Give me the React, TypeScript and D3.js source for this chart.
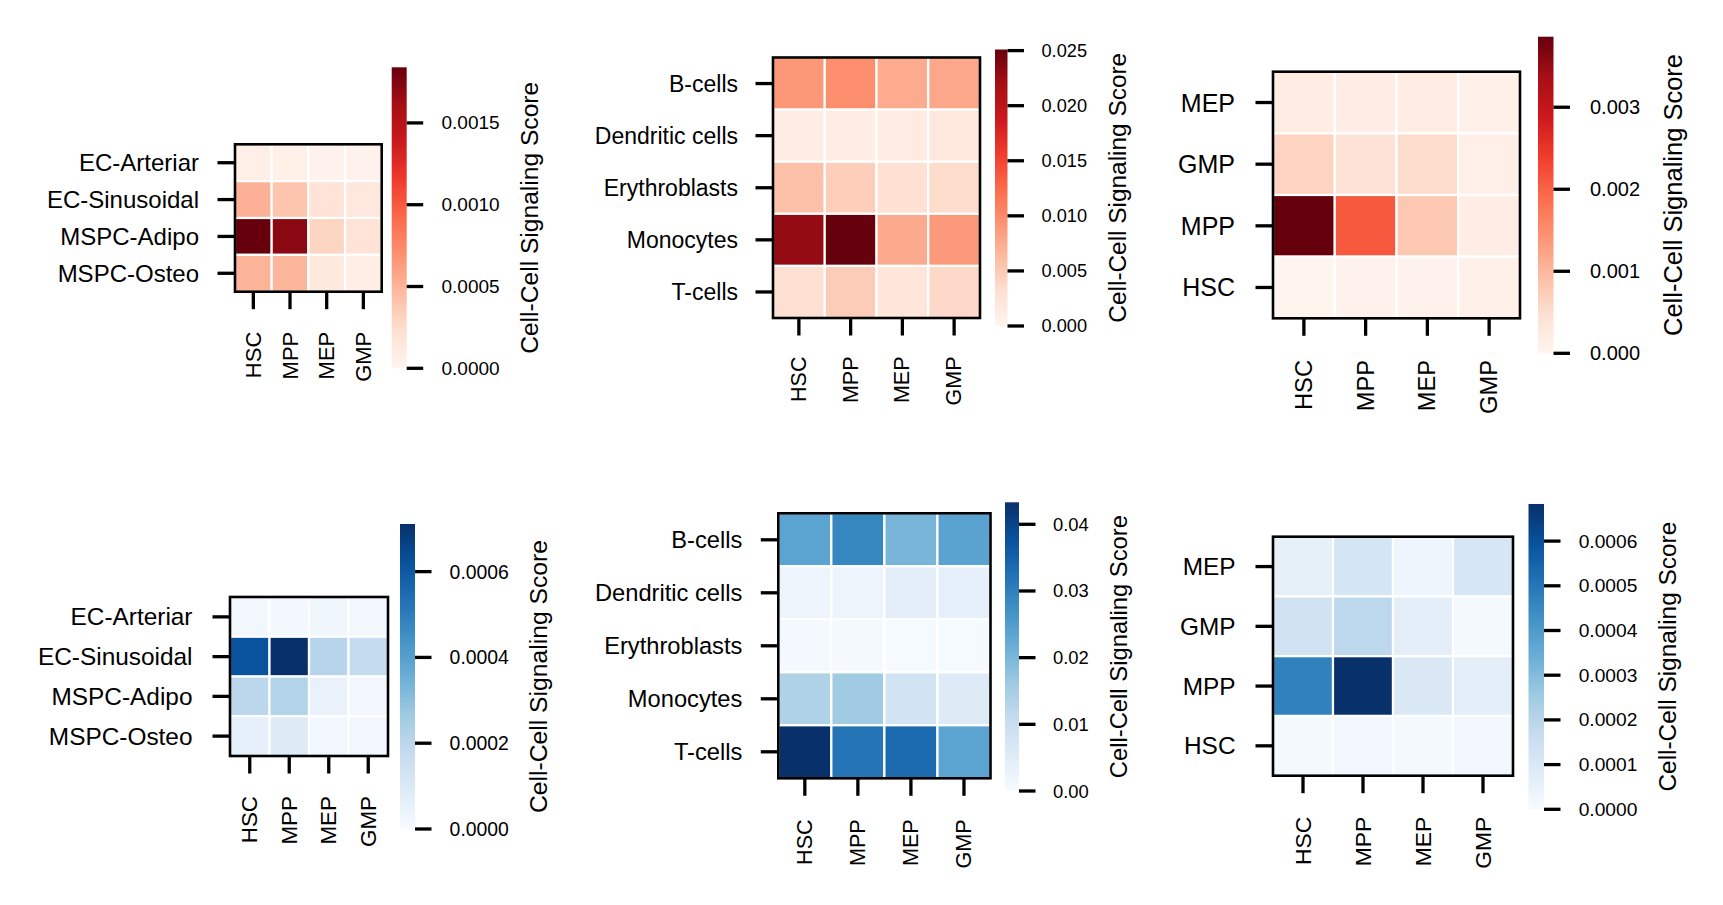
import * as d3 from "d3";

// sender (rows) x receiver (columns) signaling scores
const targets = ["HSC", "MPP", "MEP", "GMP"];
const stromaRows = ["EC-Arteriar", "EC-Sinusoidal", "MSPC-Adipo", "MSPC-Osteo"];
const immuneRows = ["B-cells", "Dendritic cells", "Erythroblasts", "Monocytes", "T-cells"];
const hspcRows = ["MEP", "GMP", "MPP", "HSC"];

const stromaRed = [
  [0.00007, 0.00006, 0.00004, 0.00003],
  [0.00052, 0.0004, 0.0002, 0.00015],
  [0.00184, 0.00171, 0.0003, 0.0002],
  [0.0005, 0.00049, 0.00013, 0.00008],
];
const immuneRed = [
  [0.009, 0.0098, 0.0075, 0.0078],
  [0.0012, 0.0013, 0.0015, 0.0019],
  [0.0058, 0.0046, 0.003, 0.0035],
  [0.0228, 0.0251, 0.0076, 0.0089],
  [0.0031, 0.0048, 0.0023, 0.0037],
];
const hspcRed = [
  [0.00019, 0.0002, 0.00021, 0.00012],
  [0.00065, 0.00043, 0.00054, 0.00013],
  [0.00386, 0.0021, 0.0008, 0.0002],
  [0.00003, 0.00007, 0.00006, 0.0001],
];
const stromaBlue = [
  [0.00002, 0.00002, 0.00003, 0.00002],
  [0.00062, 0.000711, 0.00021, 0.00018],
  [0.0002, 0.00022, 0.00005, 0.00002],
  [0.00006, 0.00009, 0.00002, 0.00002],
];
const immuneBlue = [
  [0.0238, 0.029, 0.0203, 0.0239],
  [0.0022, 0.0023, 0.0043, 0.0037],
  [0.0008, 0.0007, 0.0005, 0.0005],
  [0.0138, 0.016, 0.0081, 0.0055],
  [0.0433, 0.032, 0.0337, 0.0238],
];
const hspcBlue = [
  [0.00006, 0.00012, 0.00003, 0.00011],
  [0.00013, 0.00019, 0.00007, 0.00001],
  [0.00047, 0.000683, 0.0001, 0.00007],
  [0.00001, 0.00002, 0.00001, 0.00002],
];

const ticksStromaRed = [0, 0.0005, 0.001, 0.0015];
const ticksImmuneRed = [0, 0.005, 0.01, 0.015, 0.02, 0.025];
const ticksHspcRed = [0, 0.001, 0.002, 0.003];
const ticksStromaBlue = [0, 0.0002, 0.0004, 0.0006];
const ticksImmuneBlue = [0, 0.01, 0.02, 0.03, 0.04];
const ticksHspcBlue = [0, 0.0001, 0.0002, 0.0003, 0.0004, 0.0005, 0.0006];

const REDS = ["#fff5f0", "#fee0d2", "#fcbba1", "#fc9272", "#fb6a4a", "#ef3b2c", "#cb181d", "#a50f15", "#67000d"];
const BLUES = ["#f7fbff", "#deebf7", "#c6dbef", "#9ecae1", "#6baed6", "#4292c6", "#2171b5", "#08519c", "#08306b"];

const FONT = "'Liberation Sans', Arial, Helvetica, sans-serif";
const LABEL = "Cell-Cell Signaling Score";

type Panel = {
  id: string;
  rows: string[];
  values: number[][];
  ticks: number[];
  fmt: string;
  palette: string[];
  box: [number, number, number, number];
  cb: [number, number, number, number];
  yFont: number;
  xFont: number;
  cbFont: number;
  labelFont: number;
  labelX: number;
  xLabelTop: number;
  yLabelRight: number;
  cbTextX: number;
};

const panels: Panel[] = [
  {
    id: "p1", rows: stromaRows, values: stromaRed, ticks: ticksStromaRed, fmt: ".4f", palette: REDS,
    box: [235, 381.7, 144.3, 291.7], cb: [391.7, 406.7, 67.3, 368.3],
    yFont: 24, xFont: 22, cbFont: 19, labelFont: 24.6, labelX: 538, xLabelTop: 331.7, yLabelRight: 199, cbTextX: 441.5,
  },
  {
    id: "p2", rows: immuneRows, values: immuneRed, ticks: ticksImmuneRed, fmt: ".3f", palette: REDS,
    box: [773, 980, 57.5, 318], cb: [995, 1007.5, 49.5, 326],
    yFont: 23, xFont: 21.5, cbFont: 18.2, labelFont: 24.4, labelX: 1125.5, xLabelTop: 356.5, yLabelRight: 738, cbTextX: 1041.5,
  },
  {
    id: "p3", rows: hspcRows, values: hspcRed, ticks: ticksHspcRed, fmt: ".3f", palette: REDS,
    box: [1273, 1520, 71.7, 318.3], cb: [1538, 1553.5, 36.7, 353.3],
    yFont: 25, xFont: 23.7, cbFont: 20, labelFont: 25.5, labelX: 1682, xLabelTop: 360, yLabelRight: 1235, cbTextX: 1590,
  },
  {
    id: "p4", rows: stromaRows, values: stromaBlue, ticks: ticksStromaBlue, fmt: ".4f", palette: BLUES,
    box: [230, 388, 597, 756], cb: [400, 415, 524, 829],
    yFont: 24.4, xFont: 22.4, cbFont: 19.4, labelFont: 24.7, labelX: 547, xLabelTop: 796, yLabelRight: 192.5, cbTextX: 449.6,
  },
  {
    id: "p5", rows: immuneRows, values: immuneBlue, ticks: ticksImmuneBlue, fmt: ".2f", palette: BLUES,
    box: [778.3, 990.5, 513.3, 778.3], cb: [1005, 1019, 502.3, 791],
    yFont: 23.7, xFont: 21.6, cbFont: 18.4, labelFont: 23.8, labelX: 1126.5, xLabelTop: 819.3, yLabelRight: 742.4, cbTextX: 1053,
  },
  {
    id: "p6", rows: hspcRows, values: hspcBlue, ticks: ticksHspcBlue, fmt: ".4f", palette: BLUES,
    box: [1273, 1513, 536.7, 775.7], cb: [1528.5, 1544, 504, 809.3],
    yFont: 24.4, xFont: 22.9, cbFont: 19.2, labelFont: 24.4, labelX: 1676, xLabelTop: 816.7, yLabelRight: 1235.5, cbTextX: 1578.7,
  },
];

const TICK_W = 3.3;
const TICK_LEN = 17.5;
const CB_TICK_LEN = 16.5;

function Heatmap({ p }: { p: Panel }) {
  const [bx0, bx1, by0, by1] = p.box;
  const [cx0, cx1, cy0, cy1] = p.cb;
  const x = d3.scaleBand().domain(targets).range([bx0, bx1]);
  const y = d3.scaleBand().domain(p.rows).range([by0, by1]);
  const vmax = d3.max(p.values.flat()) ?? 1;
  const color = d3
    .scaleLinear<string>()
    .domain(p.palette.map((_, i) => (i / (p.palette.length - 1)) * vmax))
    .range(p.palette)
    .interpolate(d3.interpolateRgb)
    .clamp(true);
  const cbY = d3.scaleLinear().domain([0, vmax]).range([cy1, cy0]);
  const fmt = d3.format(p.fmt);
  const gradId = `grad-${p.id}`;

  return (
    <g fontFamily={FONT} fill="#000">
      <defs>
        <linearGradient id={gradId} x1="0" y1="1" x2="0" y2="0">
          {p.palette.map((c, i) => (
            <stop key={i} offset={i / (p.palette.length - 1)} stopColor={c} />
          ))}
        </linearGradient>
      </defs>

      {p.values.map((row, ri) =>
        row.map((v, ci) => (
          <rect
            key={`${ri}-${ci}`}
            x={x(targets[ci])}
            y={y(p.rows[ri])}
            width={x.bandwidth()}
            height={y.bandwidth()}
            fill={color(v)}
            stroke="#fff"
            strokeWidth={2.2}
          />
        ))
      )}
      <rect x={bx0} y={by0} width={bx1 - bx0} height={by1 - by0} fill="none" stroke="#000" strokeWidth={2.6} />

      {p.rows.map((r) => {
        const yc = (y(r) ?? 0) + y.bandwidth() / 2;
        return (
          <g key={r}>
            <line x1={bx0 - TICK_LEN} x2={bx0} y1={yc} y2={yc} stroke="#000" strokeWidth={TICK_W} />
            <text x={p.yLabelRight} y={yc} textAnchor="end" dominantBaseline="central" fontSize={p.yFont}>
              {r}
            </text>
          </g>
        );
      })}

      {targets.map((t) => {
        const xc = (x(t) ?? 0) + x.bandwidth() / 2;
        return (
          <g key={t}>
            <line x1={xc} x2={xc} y1={by1} y2={by1 + TICK_LEN} stroke="#000" strokeWidth={TICK_W} />
            <text
              transform={`translate(${xc},${p.xLabelTop}) rotate(-90)`}
              textAnchor="end"
              dominantBaseline="central"
              fontSize={p.xFont}
            >
              {t}
            </text>
          </g>
        );
      })}

      <rect x={cx0} y={cy0} width={cx1 - cx0} height={cy1 - cy0} fill={`url(#${gradId})`} />
      {p.ticks.map((t) => (
        <g key={t}>
          <line x1={cx1} x2={cx1 + CB_TICK_LEN} y1={cbY(t)} y2={cbY(t)} stroke="#000" strokeWidth={TICK_W} />
          <text x={p.cbTextX} y={cbY(t)} dominantBaseline="central" fontSize={p.cbFont}>
            {fmt(t)}
          </text>
        </g>
      ))}
      <text
        transform={`translate(${p.labelX},${(cy0 + cy1) / 2}) rotate(-90)`}
        textAnchor="middle"
        fontSize={p.labelFont}
      >
        {LABEL}
      </text>
    </g>
  );
}

export default function App() {
  return (
    <svg
      width={1723}
      height={905}
      viewBox="0 0 1723 905"
      style={{ position: "absolute", left: 0, top: 0, background: "#fff" }}
    >
      <rect width={1723} height={905} fill="#fff" />
      {panels.map((p) => (
        <Heatmap key={p.id} p={p} />
      ))}
    </svg>
  );
}
